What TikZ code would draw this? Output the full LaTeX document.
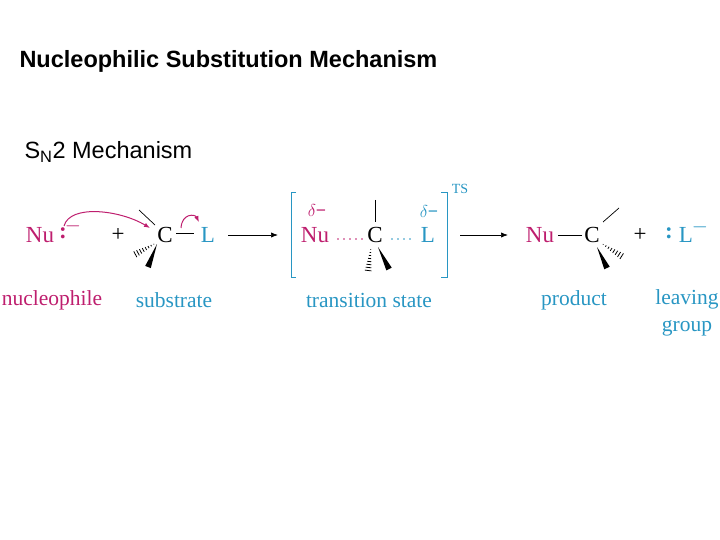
\documentclass[tikz,border=0pt]{standalone}
\usepackage{fontspec}
\setmainfont{Liberation Serif}
\newfontfamily\headfont{Liberation Sans}
\usetikzlibrary{arrows.meta,calc}

\definecolor{nuc}{RGB}{190,30,110}
\definecolor{lvg}{RGB}{40,150,195}

% hashed wedge from (#1) to (#2)
\newcommand{\hashwedge}[2]{
  \foreach \t in {0.1,0.22,...,1.0} {
    \pgfmathsetmacro\hw{\t*3.5}
    \draw[line width=0.8pt] ($(#1)!\t!(#2)!\hw pt!90:(#2)$) -- ($(#1)!\t!(#2)!\hw pt!-90:(#2)$);
  }
}
% solid wedge from (#1) to (#2)
\newcommand{\solidwedge}[2]{
  \fill (#1) -- ($(#2)!3pt!90:(#1)$) -- ($(#2)!3pt!-90:(#1)$) -- cycle;
}

\begin{document}
\begin{tikzpicture}[x=1pt,y=-1pt,
  chem/.style={inner sep=1pt,font=\fontsize{23}{23}\selectfont},
  lbl/.style={font=\fontsize{21.5}{27}\selectfont,align=center},
  bond/.style={line width=0.7pt},
  react/.style={-{Latex[length=7pt]},line width=0.7pt},
  push/.style={-{Latex[length=6pt]},nuc,line width=1pt}]
\useasboundingbox (0,0) rectangle (720,540);

% Headings
\node[anchor=west,font=\headfont\bfseries\fontsize{23.5}{24}\selectfont] (title) at (16,61) {Nucleophilic Substitution Mechanism};
\node[anchor=west,font=\headfont\fontsize{23.5}{24}\selectfont] (sn2) at (21,152) {S\textsubscript{N}2 Mechanism};

% Reactants
\node[chem,text=nuc] (nu1) at (40,235) {Nu};
\node[chem,text=nuc] (lp1) at (63,233) {\textbf{:}};
\node[chem,text=nuc,font=\fontsize{20}{20}\selectfont] (m1) at (73,226) {$-$};
\node[chem] (p1) at (118,235) {+};
\node[chem] (c1) at (165,235) {C};
\node[chem,text=lvg] (l1) at (208,235) {L};
\draw[bond] (176,233) -- (194,233);
\draw[bond] (139,210) -- (155,225);
\hashwedge{156,243}{134,255}
\solidwedge{157,244}{148,267}
\draw[push] (64,226) .. controls (70,204) and (120,210) .. (150,228);
\draw[push] (181,228) .. controls (182,213) and (195,214) .. (199,222);

\draw[react] (228,235) -- (278,235);

% Transition state
\draw[lvg,line width=0.9pt] (296,192) -- (291,192) -- (291,277) -- (296,277);
\draw[lvg,line width=0.9pt] (441,192) -- (447,192) -- (447,277) -- (441,277);
\node[text=lvg,font=\fontsize{14}{14}\selectfont] (ts) at (460,189) {TS};
\node[chem,text=nuc] (nu2) at (315,235) {Nu};
\node[chem] (c2) at (375,235) {C};
\node[chem,text=lvg] (l2) at (428,235) {L};
\node[text=nuc,font=\fontsize{18}{18}\selectfont] (d1) at (317,211) {$\delta$\textbf{−}};
\node[text=lvg,font=\fontsize{18}{18}\selectfont] (d2) at (429,212) {$\delta$\textbf{−}};
\draw[nuc,line width=1.6pt,line cap=round,dash pattern=on 0pt off 6pt] (338,239) -- (362,239);
\draw[lvg,line width=1.6pt,line cap=round,dash pattern=on 0pt off 6pt] (392,239) -- (416,239);
\draw[bond] (375,200) -- (375,222);
\hashwedge{371,247}{368,272}
\solidwedge{378,247}{389,269}

\draw[react] (460,235) -- (508,235);

% Products
\node[chem,text=nuc] (nu3) at (540,235) {Nu};
\node[chem] (c3) at (592,235) {C};
\draw[bond] (558,235) -- (582,235);
\draw[bond] (603,222) -- (619,208);
\hashwedge{601,243}{623,257}
\solidwedge{597,247}{607,268}
\node[chem] (p2) at (640,235) {+};
\node[chem,text=lvg] (lp2) at (669,233) {\textbf{:}};
\node[chem,text=lvg] (l3) at (686,235) {L};
\node[chem,text=lvg,font=\fontsize{20}{20}\selectfont] (m3) at (700,227) {$-$};

% Labels
\node[lbl,text=nuc] (lnuc) at (52,300) {nucleophile};
\node[lbl,text=lvg] (lsub) at (174,300) {substrate};
\node[lbl,text=lvg] (lts) at (369,300) {transition state};
\node[lbl,text=lvg] (lprod) at (574,300) {product};
\node[lbl,text=lvg] (lleave) at (687,313) {leaving\\group};
\end{tikzpicture}
\end{document}
